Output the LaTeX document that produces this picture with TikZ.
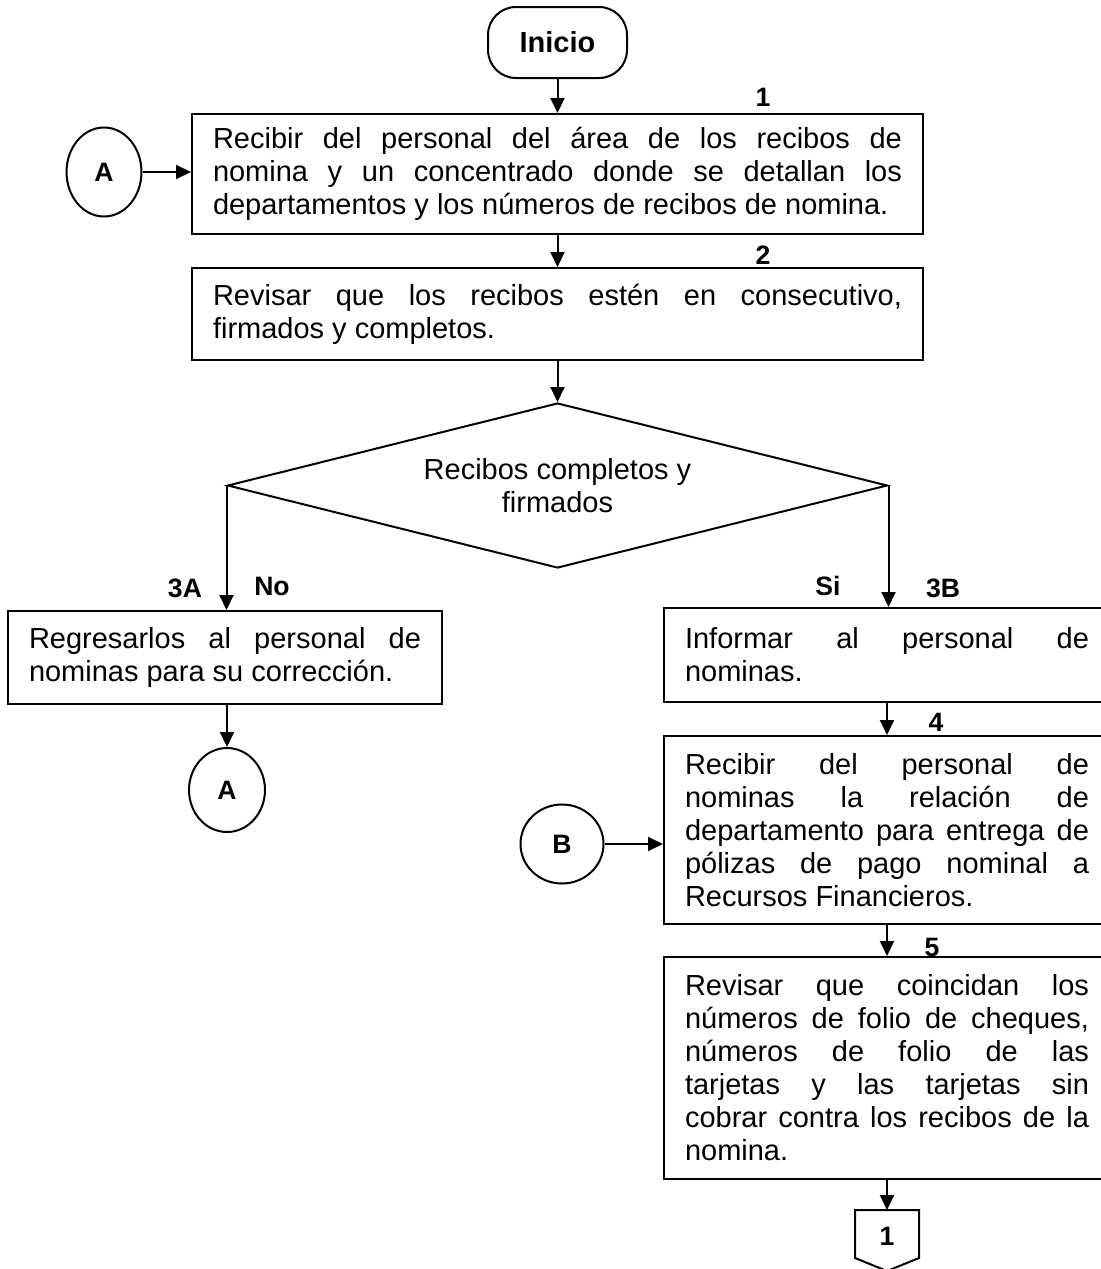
\documentclass[tikz,border=0pt]{standalone}
\usepackage{fontspec}
\setmainfont{Liberation Sans}
\usetikzlibrary{shapes.geometric,arrows.meta}
\tolerance=10000 \hbadness=10000 \hyphenpenalty=10000
\newcommand{\texto}{\fontsize{14.5}{16.5}\selectfont}
\newcommand{\etiq}{\fontsize{13.3}{15}\selectfont\bfseries}

\begin{document}
\begin{tikzpicture}[x=0.5pt,y=-0.5pt,line width=1pt,
	flecha/.style={-{Triangle[length=7.5pt,width=7pt]}},
	caja/.style={draw,align=justify,inner xsep=10.5pt,inner ysep=0pt,font=\texto},
	conector/.style={draw,ellipse,inner sep=0pt,font=\etiq},
	etiqueta/.style={inner sep=0pt,font=\etiq}]
			\useasboundingbox (0,0) rectangle (1100,1269);
			
			\node (inicio) at (557.5,42.5) [draw,rounded corners=14pt,minimum width=69.5pt,minimum height=35.5pt,font=\texto\bfseries] {Inicio};
			
			\node (r1) at (557.5,174) [caja,text width=344.5pt,minimum height=60pt] {Recibir del personal del área de los recibos de\linebreak nomina y un concentrado donde se detallan los\linebreak departamentos y los números de recibos de nomina.};
			\node (r2) at (557.5,314) [caja,text width=344.5pt,minimum height=46pt] {Revisar que los recibos estén en consecutivo,\linebreak firmados y completos.};
			\node (dec) at (557.5,485.5) [draw,diamond,shape aspect=4,minimum width=330pt,minimum height=82.5pt,inner sep=0pt,align=center,font=\texto] {Recibos completos y\\firmados};
			
			\node (r3a) at (225,657.5) [caja,text width=196pt,minimum height=46.5pt] {Regresarlos al personal de\linebreak nominas para su corrección.};
			\node (r3b) at (887,655) [caja,text width=202pt,minimum height=47pt] {Informar al personal de\linebreak nominas.};
			\node (r4) at (887,830) [caja,text width=202pt,minimum height=94pt] {Recibir del personal de\linebreak nominas la relación de\linebreak departamento para entrega de\linebreak pólizas de pago nominal a\linebreak Recursos Financieros.};
			\node (r5) at (887,1068) [caja,text width=202pt,minimum height=111pt] {Revisar que coincidan los\linebreak números de folio de cheques,\linebreak números de folio de las\linebreak tarjetas y las tarjetas sin\linebreak cobrar contra los recibos de la\linebreak nomina.};
			
			\node (cA1) at (104,172) [conector,minimum width=37.5pt,minimum height=44.5pt] {A};
			\node (cA2) at (227,790) [conector,minimum width=38pt,minimum height=42pt] {A};
			\node (cB) at (562,844) [conector,minimum width=41.5pt,minimum height=39.5pt] {B};
			
			% conector fuera de pagina
			\coordinate (p1) at (887,1210);
			\draw (855,1210) -- (919,1210) -- (919,1258) -- (887,1271) -- (855,1258) -- cycle;
			\node (pag1) at (887,1236) [etiqueta] {1};
			
			\node (n1) at (763,97) [etiqueta] {1};
			\node (n2) at (763,255) [etiqueta] {2};
			\node (n3a) at (185,588) [etiqueta] {3A};
			\node (no) at (272,586) [etiqueta] {No};
			\node (si) at (828,586) [etiqueta] {Si};
			\node (n3b) at (943,588) [etiqueta] {3B};
			\node (n4) at (936,722) [etiqueta] {4};
			\node (n5) at (932,947) [etiqueta] {5};
			
			\draw [flecha] (inicio.south) -- (inicio.south |- r1.north);
			\draw [flecha] (cA1.east) -- (cA1.east -| r1.west);
			\draw [flecha] (r1.south) -- (r2.north);
			\draw [flecha] (r2.south) -- (dec.north);
			\draw [flecha] (dec.west) -- (dec.west |- r3a.north);
			\draw [flecha] (dec.east) -- (dec.east |- r3b.north);
			\draw [flecha] (cA2 |- r3a.south) -- (cA2.north);
			\draw [flecha] (r3b.south) -- (r4.north);
			\draw [flecha] (cB.east) -- (cB.east -| r4.west);
			\draw [flecha] (r4.south) -- (r5.north);
			\draw [flecha] (r5.south) -- (p1);
		\end{tikzpicture}
\end{document}
